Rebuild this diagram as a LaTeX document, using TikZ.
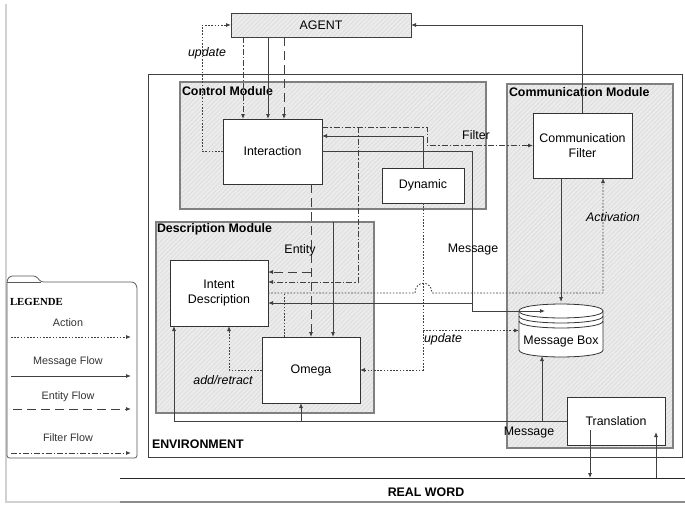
\documentclass[tikz,border=0pt]{standalone}
\usepackage{fontspec}
\setmainfont{Liberation Sans}
\newfontfamily\legfont{Liberation Serif}
\usetikzlibrary{arrows.meta,patterns.meta,calc}
\begin{document}
\begin{tikzpicture}[x=1pt,y=-1pt,
  font=\fontsize{12.4}{14}\selectfont,
  every node/.style={inner sep=0pt, outer sep=0pt},
  whitebox/.style={draw=black!80, fill=white, line width=0.8pt, align=center},
  hatchfill/.style={preaction={fill=black!8}, preaction={pattern={Lines[angle=45,distance=3.2pt,line width=0.5pt]}, pattern color=black!15}},
  module/.style={draw=black!50, line width=1.1pt, hatchfill},
  agentbox/.style={draw=black!75, line width=0.8pt, hatchfill},
  modlabel/.style={font=\fontsize{12.4}{14}\selectfont\bfseries, anchor=west},
  conn/.style={draw=black!75, line width=0.8pt},
  arr/.style={-{Latex[length=5pt,width=4pt]}},
  msgflow/.style={conn},
  action/.style={conn, dash pattern=on 1.6pt off 1.6pt},
  entity/.style={conn, dash pattern=on 9pt off 5pt},
  filterflow/.style={conn, dash pattern=on 6pt off 2pt on 1.5pt off 2pt},
  lbl/.style={font=\fontsize{12.4}{14}\selectfont\itshape},
  legtext/.style={font=\fontsize{10.8}{13}\selectfont, text=black!80},
]
\useasboundingbox (0,0) rectangle (685,506);
% outer faint frame
\draw[black!18, line width=2pt] (6,4) -- (6,502) -- (685,502);

% environment and modules
\node[draw=black!75, line width=1pt, fill=white, minimum width=534, minimum height=383] (env) at (415,265.5) {};
\node[module, minimum width=306, minimum height=127] (ctrl) at (333,145.5) {};
\node[module, minimum width=218, minimum height=191] (desc) at (265,317.5) {};
\node[module, minimum width=166, minimum height=364] (comm) at (590,266) {};
\node[modlabel] (ctrllbl) at (182,91) {Control Module};
\node[modlabel] (desclbl) at (157,229) {Description Module};
\node[modlabel] (commlbl) at (509,92) {Communication Module};
\node[modlabel] (envlbl) at (152,444) {ENVIRONMENT};

% agent
\node[agentbox, minimum width=180, minimum height=24] (agent) at (321,25) {AGENT};

% white boxes
\node[whitebox, minimum width=99, minimum height=65] (interaction) at (272.5,151.5) {Interaction};
\node[whitebox, minimum width=82, minimum height=35] (dynamic) at (423,185.5) {Dynamic};
\node[whitebox, minimum width=99, minimum height=65] (commfilter) at (582.5,145.5) {Communication\\[1pt]Filter};
\node[whitebox, minimum width=98, minimum height=66] (intent) at (219,293) {Intent\\[1pt]Description};
\node[whitebox, minimum width=98, minimum height=66] (omega) at (311,370) {Omega};
\node[whitebox, minimum width=98, minimum height=48] (translation) at (616,421) {Translation};

% message box cylinder
\node[minimum width=84, minimum height=53] (msgbox) at (561,330.5) {};
\fill[white] (519,311) -- (519,350) .. controls (519,359.3) and (603,359.3) .. (603,350) -- (603,311) .. controls (603,301.7) and (519,301.7) .. cycle;
\draw[black!80, line width=0.8pt] (519,311) -- (519,350) .. controls (519,359.3) and (603,359.3) .. (603,350) -- (603,311) .. controls (603,301.7) and (519,301.7) .. cycle;
\draw[black!80, line width=0.8pt] (519,311) .. controls (519,320.3) and (603,320.3) .. (603,311);
\draw[black!80, line width=0.8pt] (519,316) .. controls (519,325.3) and (603,325.3) .. (603,316);
\draw[black!80, line width=0.8pt] (519,321) .. controls (519,330.3) and (603,330.3) .. (603,321);
\node (msgboxtext) at (561,342) {Message Box};

% real world
\draw[black!85, line width=0.9pt] (120,478) -- (685,478);
\draw[black!45, line width=1.5pt] (120,502) -- (685,502);
\node[font=\fontsize{12.4}{14}\selectfont\bfseries] (realword) at (426,492) {REAL WORD};
\coordinate (rwa) at (590,478);
\coordinate (rwb) at (656,478);

% ---------- connectors ----------
% agent -> interaction
\draw[filterflow,arr] ($(agent.south west)+(12,0)$) -- ($(interaction.north west)+(20,0)$);
\draw[msgflow,arr] ($(agent.south west)+(37,0)$) -- ($(interaction.north west)+(45,0)$);
\draw[entity,arr] ($(agent.south west)+(53,0)$) -- ($(interaction.north west)+(61,0)$);
% update to agent
\draw[action,arr] (interaction.west) -| ($(agent.west)+(-29,0)$) -- (agent.west);
\node[lbl] (updlbl1) at (207,53) {update};
% comm filter -> agent
\draw[msgflow,arr] (commfilter.north) |- (agent.east);
% filter flow
\coordinate (f1) at (427,127);
\coordinate (f2) at (358,127);
\draw[filterflow,arr] ($(interaction.north east)+(0,8)$) -- (f1) |- (commfilter.west);
\draw[filterflow,arr] (f2) |- ($(intent.east)+(0,-11)$);
\node (filterlbl) at (476,135) {Filter};
% dynamic -> interaction
\draw[msgflow,arr] (dynamic.north) |- ($(interaction.north east)+(0,17)$);
% message from interaction
\coordinate (m1) at (472,311);
\coordinate (m2) at (472,303);
\coordinate (mbin) at (545,311);
\draw[msgflow,arr] (interaction.east) -| (m1) -- (mbin);
\draw[msgflow,arr] (m2) -- ($(intent.east)+(0,10)$);
\node (msglbl1) at (473,250) {Message};
% entity
\coordinate (e1) at (311,272);
\draw[entity,arr] ($(interaction.south west)+(88,0)$) -- (omega.north);
\draw[entity,arr] (e1) -- ($(intent.east)+(0,-21)$);
\node (entitylbl) at (300,250) {Entity};
% message into omega
\draw[msgflow,arr] ($(desc.north west)+(177,0)$) -- ($(omega.north)+(22,0)$);
% dynamic actions
\draw[action,arr] (dynamic.south) |- (omega.east);
\draw[action,arr] (dynamic.south |- msgbox.west) -- (msgbox.west);
\node[lbl] (updlbl2) at (443,339) {update};
% activation
\draw[action,arr] (intent.east) -- (415,293) .. controls (415,280) and (432,280) .. (432,293) -- (603,293) -- ($(commfilter.south)+(20.5,0)$);
\draw[action] ($(omega.north west)+(22,0)$) -- ++(0,-44);
\node[lbl] (actlbl) at (613,217) {Activation};
% add/retract
\draw[action,arr] (omega.west) -| ($(intent.south)+(10,0)$);
\node[lbl] (addlbl) at (223,380) {add/retract};
% comm filter -> message box
\draw[msgflow,arr] (commfilter.south -| msgbox.north) -- ([yshift=2pt]msgbox.north);
% translation messages
\coordinate (t1) at (301,421);
\coordinate (t2) at (542,421);
\coordinate (t3) at (542,356);
\draw[msgflow,arr] (translation.west) -| ($(intent.south)+(-45,0)$);
\draw[msgflow,arr] (t1) -- (t1 |- omega.south);
\draw[msgflow,arr] (t2) -- (t3);
\node (msglbl2) at (529,433) {Message};
% translation <-> real world
\draw[msgflow,arr] ($(translation.south west)+(23,-15)$) -- (rwa);
\draw[msgflow,arr] (rwb) -- ($(translation.south east)+(-9,-13)$);

% ---------- legend ----------
\draw[black!65, line width=0.8pt, rounded corners=2.5pt] (7,458) -- (7,280) -- (10,276) -- (36,276) -- (41,282) -- (134,282) -- (137,286) -- (137,458) -- cycle;
\draw[black!65, line width=0.8pt] (7,282) -- (41,282);
\node[anchor=west, font=\legfont\fontsize{10.8}{13}\selectfont\bfseries] (legtitle) at (10,302) {LEGENDE};
\node[legtext] (legaction) at (68,323) {Action};
\coordinate (la1) at (11,337); \coordinate (la2) at (131,337);
\draw[action,arr] (la1) -- (la2);
\node[legtext] (legmsg) at (68,362) {Message Flow};
\coordinate (lm1) at (11,376); \coordinate (lm2) at (131,376);
\draw[msgflow,arr] (lm1) -- (lm2);
\node[legtext] (legent) at (68,397) {Entity Flow};
\coordinate (le1) at (13,409); \coordinate (le2) at (131,409);
\draw[entity,arr] (le1) -- (le2);
\node[legtext] (legfil) at (68,438) {Filter Flow};
\coordinate (lf1) at (11,453); \coordinate (lf2) at (131,453);
\draw[filterflow,arr] (lf1) -- (lf2);
\end{tikzpicture}
\end{document}
